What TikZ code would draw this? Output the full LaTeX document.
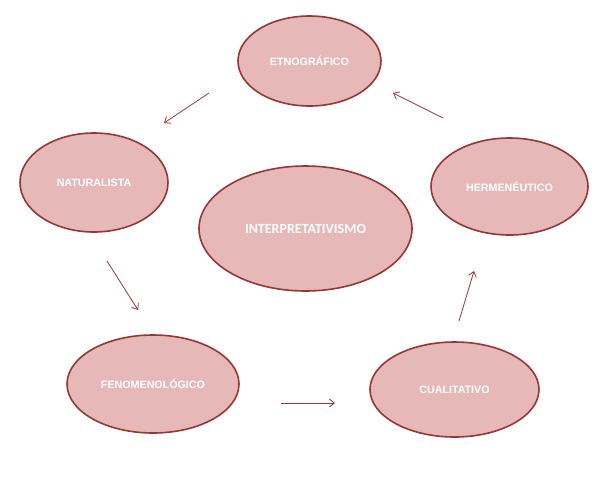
\documentclass[tikz,border=0pt]{standalone}
\usepackage{fontspec}
\newfontfamily\arialfont{Liberation Sans}
\newfontfamily\calfont{Carlito}
\usepackage{tikz}
\usetikzlibrary{shapes.geometric,arrows.meta}
\definecolor{bordo}{HTML}{953735}
\definecolor{rosa}{HTML}{E6B8B7}

\begin{document}
\begin{tikzpicture}[x=1pt,y=-1pt,>={Straight Barb[length=5pt,width=8pt]},
  elip/.style={ellipse,draw=bordo,fill=rosa,line width=1.6pt,inner sep=0pt,
    text=white,font=\arialfont\bfseries\fontsize{10.7}{12}\selectfont},
  flecha/.style={->,draw=bordo,line width=0.8pt}]
\useasboundingbox (0,0) rectangle (610,483);
\node[elip,minimum width=143pt,minimum height=90pt] (etno) at (309.5,61) {ETNOGRÁFICO};
\node[elip,minimum width=148pt,minimum height=99pt] (natu) at (94,182.5) {NATURALISTA};
\node[elip,minimum width=213pt,minimum height=125pt,font=\calfont\bfseries\fontsize{14}{16}\selectfont] (inter) at (305.5,228.5) {INTERPRETATIVISMO};
\node[elip,minimum width=157pt,minimum height=97pt] (herm) at (509.5,186.5) {HERMENÉUTICO};
\node[elip,minimum width=172pt,minimum height=98pt] (feno) at (153,384) {FENOMENOLÓGICO};
\node[elip,minimum width=169pt,minimum height=95pt] (cual) at (454.5,389.5) {CUALITATIVO};
% flechas sueltas entre los circulos
\coordinate (a1) at (209,93);  \coordinate (b1) at (164,123);
\coordinate (a2) at (107,261); \coordinate (b2) at (138,310);
\coordinate (a3) at (281,403); \coordinate (b3) at (335,403);
\coordinate (a4) at (459,321); \coordinate (b4) at (474,271);
\coordinate (a5) at (443,118); \coordinate (b5) at (393,93);
\draw[flecha] (a1) -- (b1);
\draw[flecha] (a2) -- (b2);
\draw[flecha] (a3) -- (b3);
\draw[flecha] (a4) -- (b4);
\draw[flecha] (a5) -- (b5);
\end{tikzpicture}
\end{document}
